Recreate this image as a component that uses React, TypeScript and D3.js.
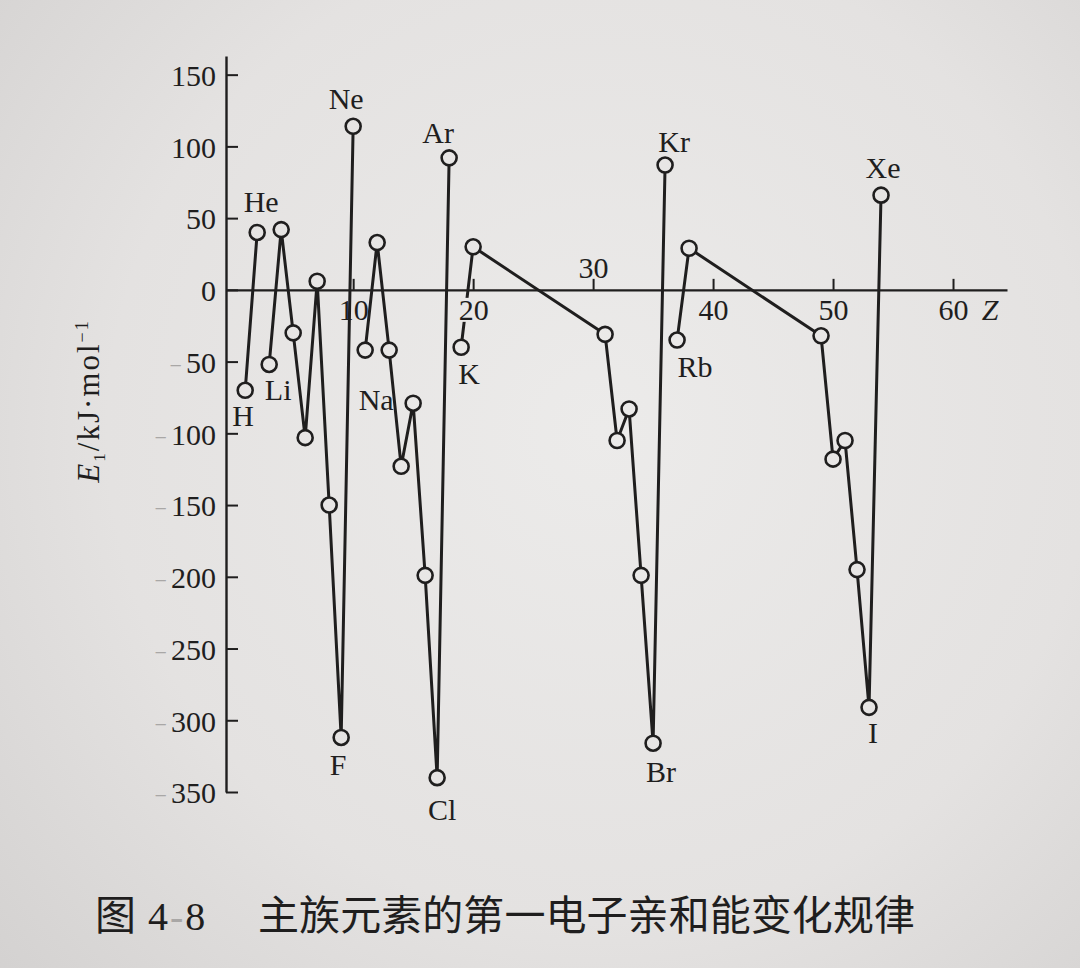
import React, { useEffect, useRef } from "react";
import * as d3 from "d3";

// ---- data ----
const atomicNumbers = [1, 2, 3, 4, 5, 6, 7, 8, 9, 10, 11, 12, 13, 14, 15, 16, 17, 18, 19, 20, 31, 32, 33, 34, 35, 36, 37, 38, 49, 50, 51, 52, 53, 54];
const symbols = ["H", "He", "Li", "Be", "B", "C", "N", "O", "F", "Ne", "Na", "Mg", "Al", "Si", "P", "S", "Cl", "Ar", "K", "Ca", "Ga", "Ge", "As", "Se", "Br", "Kr", "Rb", "Sr", "In", "Sn", "Sb", "Te", "I", "Xe"];
const affinities = [-70, 40, -52, 42, -30, -103, 6, -150, -312, 114, -42, 33, -42, -123, -79, -199, -340, 92, -40, 30, -31, -105, -83, -199, -316, 87, -35, 29, -32, -118, -105, -195, -291, 66];
const periods = [1, 1, 2, 2, 2, 2, 2, 2, 2, 2, 3, 3, 3, 3, 3, 3, 3, 3, 4, 4, 4, 4, 4, 4, 4, 4, 5, 5, 5, 5, 5, 5, 5, 5];
const xTicks = [10, 20, 30, 40, 50, 60];
const yTicks = [150, 100, 50, 0, -50, -100, -150, -200, -250, -300, -350];
const labeledSymbols = ["H", "He", "Li", "Ne", "Na", "F", "Ar", "K", "Cl", "Kr", "Rb", "Br", "Xe", "I"];
const maskedTick = 20;
const raisedTick = 30;
const xAxisName = "Z";
const yTitleMain = "E";
const yTitleSub = "1";
const yTitleUnit = "/kJ·mol";
const yTitleSup = "−1";
const captionFigure = "图";
const captionNumberA = "4";
const captionNumberDash = "-";
const captionNumberB = "8";
const captionText = "主族元素的第一电子亲和能变化规律";

// ---- layout (label placement relative to its point: [dx, baseline dy]) ----
const labelOffsets: Record<string, [number, number]> = {
  H: [-2, 36], He: [4, -20], Li: [9, 36], Ne: [-7, -17], Na: [11, 60], F: [-3, 38],
  Ar: [-11, -15], K: [8, 37], Cl: [5, 42], Kr: [9, -13], Rb: [18, 37], Br: [8, 39],
  Xe: [2, -17], I: [4, 36],
};

const INK = "#1f1e1e";
const FAINT = "#a9a7a6";
const SERIF = "'Liberation Serif', 'Times New Roman', 'DejaVu Serif', serif";
const CJK = "'Noto Sans CJK SC', 'Noto Sans CJK JP', sans-serif";

export default function App() {
  const ref = useRef<SVGSVGElement>(null);

  useEffect(() => {
    const W = 1080, H = 968;
    const svg = d3.select(ref.current);
    svg.selectAll("*").remove();

    const defs = svg.append("defs");
    const grad = defs.append("radialGradient").attr("id", "bg")
      .attr("gradientUnits", "userSpaceOnUse")
      .attr("cx", 600).attr("cy", 430).attr("r", 820);
    grad.append("stop").attr("offset", "0%").attr("stop-color", "#ecebea");
    grad.append("stop").attr("offset", "60%").attr("stop-color", "#e4e2e1");
    grad.append("stop").attr("offset", "100%").attr("stop-color", "#d3d1d0");
    svg.append("rect").attr("width", W).attr("height", H).attr("fill", "url(#bg)");

    const x = d3.scaleLinear().domain([-0.6, 64.5]).range([226, 1007]);
    const y = d3.scaleLinear().domain([-350, 163]).range([792, 56]);

    const data = atomicNumbers.map((z, i) => ({ z, v: affinities[i], s: symbols[i], p: periods[i] }));

    // y axis
    const gy = svg.append("g").attr("transform", `translate(${x(-0.6)},0)`)
      .call(d3.axisLeft(y).tickValues(yTicks).tickSizeInner(-12).tickSizeOuter(0).tickPadding(10));
    gy.attr("font-family", SERIF).attr("font-size", 30);
    gy.select(".domain").attr("stroke", INK).attr("stroke-width", 2.4);
    gy.selectAll(".tick line").attr("stroke", INK).attr("stroke-width", 2);
    gy.selectAll<SVGTextElement, number>(".tick text").each(function (d) {
      const t = d3.select(this);
      t.text(null).attr("fill", INK).attr("dy", "0.36em");
      if (d < 0) {
        t.append("tspan").attr("fill", FAINT).attr("font-size", 22).text("−");
        t.append("tspan").attr("dx", 4).text(String(Math.abs(d)));
      } else {
        t.append("tspan").text(String(d));
      }
    });

    // data lines per period
    const line = d3.line<{ z: number; v: number }>().x(d => x(d.z)).y(d => y(d.v));
    const groups = d3.groups(data, d => d.p);
    svg.append("g").selectAll("path").data(groups).join("path")
      .attr("d", g => line(g[1]) as string)
      .attr("fill", "none").attr("stroke", INK).attr("stroke-width", 3)
      .attr("stroke-linejoin", "round").attr("stroke-linecap", "round");

    // markers
    svg.append("g").selectAll("circle").data(data).join("circle")
      .attr("cx", d => x(d.z)).attr("cy", d => y(d.v)).attr("r", 7.5)
      .attr("fill", "url(#bg)").attr("stroke", INK).attr("stroke-width", 2.6);

    // paper patch behind one tick label (the original label interrupts the K–Ca line)
    svg.append("rect")
      .attr("x", x(maskedTick) - 17).attr("y", y(0) + 8)
      .attr("width", 34).attr("height", 24).attr("fill", "url(#bg)");

    // x axis
    const gx = svg.append("g").attr("transform", `translate(0,${y(0)})`)
      .call(d3.axisBottom(x).tickValues(xTicks).tickSizeInner(-11).tickSizeOuter(0).tickPadding(9).tickFormat(d3.format("d")));
    gx.attr("font-family", SERIF).attr("font-size", 30);
    gx.select(".domain").attr("stroke", INK).attr("stroke-width", 2.4);
    gx.selectAll(".tick line").attr("stroke", INK).attr("stroke-width", 2);
    gx.selectAll(".tick text").attr("fill", INK);
    gx.selectAll<SVGGElement, number>(".tick").filter(d => d === raisedTick).select("text").attr("y", -12).attr("dy", "0em");
    gx.append("text").attr("x", x(63.1)).attr("y", 30).attr("fill", INK).attr("font-style", "italic")
      .attr("text-anchor", "middle").text(xAxisName);

    // element labels
    svg.append("g").attr("font-family", SERIF).attr("font-size", 30).attr("fill", INK)
      .selectAll("text").data(data.filter(d => labeledSymbols.includes(d.s))).join("text")
      .attr("x", d => x(d.z) + labelOffsets[d.s][0])
      .attr("y", d => y(d.v) + labelOffsets[d.s][1])
      .attr("text-anchor", "middle").text(d => d.s);

    // y axis title
    const yt = svg.append("text").attr("transform", "translate(99,401) rotate(-90)")
      .attr("text-anchor", "middle").attr("font-family", SERIF).attr("font-size", 31)
      .attr("letter-spacing", 2).attr("fill", INK);
    yt.append("tspan").attr("font-style", "italic").text(yTitleMain);
    yt.append("tspan").attr("font-size", 17).attr("dy", 6).text(yTitleSub);
    yt.append("tspan").attr("dy", -6).text(yTitleUnit);
    yt.append("tspan").attr("font-size", 18).attr("dy", -11).text(yTitleSup);

    // caption
    const cap = svg.append("g").attr("fill", INK);
    cap.append("text").attr("x", 95).attr("y", 930).attr("font-family", CJK).attr("font-size", 41).text(captionFigure);
    const num = cap.append("text").attr("x", 148).attr("y", 930).attr("font-family", SERIF).attr("font-size", 40);
    num.append("tspan").text(captionNumberA);
    num.append("tspan").attr("fill", FAINT).attr("dx", 2).text(captionNumberDash);
    num.append("tspan").attr("dx", 2).text(captionNumberB);
    cap.append("text").attr("x", 258).attr("y", 930).attr("font-family", CJK).attr("font-size", 41)
      .attr("textLength", 657).attr("lengthAdjust", "spacing").text(captionText);
  }, []);

  return (
    <svg ref={ref} width={1080} height={968}
      style={{ position: "absolute", left: 0, top: 0, display: "block" }} />
  );
}
